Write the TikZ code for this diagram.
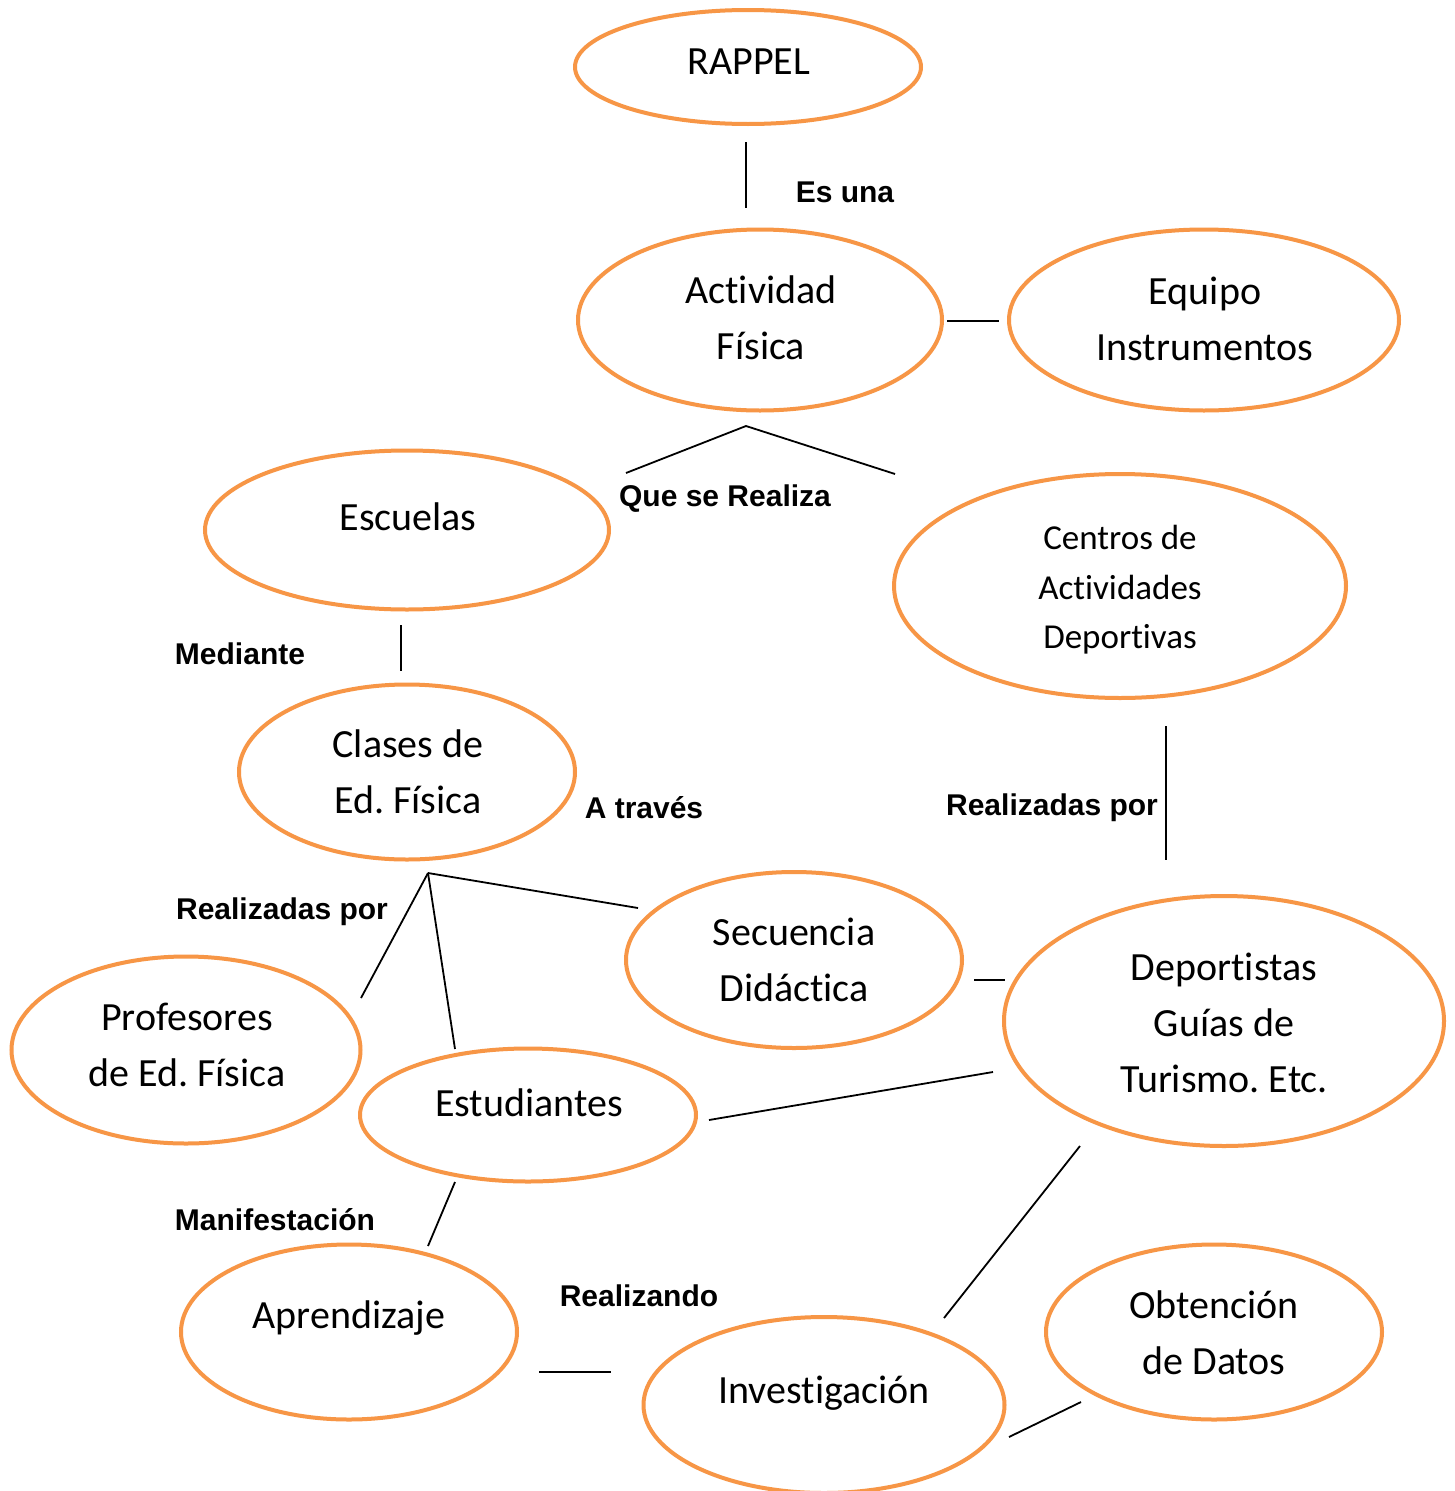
\documentclass[tikz,border=0pt]{standalone}
\usepackage{fontspec}
\usetikzlibrary{shapes.geometric}
\newfontfamily\nodefont{Carlito}[Ligatures={NoCommon}]
\newfontfamily\labfont{Liberation Sans}
\definecolor{ellorange}{RGB}{247,150,70}
\frenchspacing
\begin{document}
\begin{tikzpicture}[x=1pt,y=-1pt,
  ell/.style={ellipse, draw=ellorange, line width=4pt, inner sep=0pt},
  txt/.style={inner sep=0pt, align=center, font=\nodefont\frenchspacing\fontsize{40}{56}\selectfont},
  lab/.style={font=\labfont\bfseries\fontsize{30}{34}\selectfont, anchor=center, inner sep=0pt},
  conn/.style={draw=black, line width=1.8pt}]
\clip (0,0) rectangle (1455,1491);
\fill[white] (0,0) rectangle (1455,1491);
% ellipses
\node[ell, minimum width=346pt, minimum height=114pt] (rappel) at (748,67) {};
\node[ell, minimum width=364pt, minimum height=181pt] (actividad) at (760,320) {};
\node[ell, minimum width=390pt, minimum height=181pt] (equipo) at (1204,320) {};
\node[ell, minimum width=404pt, minimum height=159pt] (escuelas) at (407,530) {};
\node[ell, minimum width=452pt, minimum height=224pt] (centros) at (1120,586) {};
\node[ell, minimum width=336pt, minimum height=175pt] (clases) at (407,772) {};
\node[ell, minimum width=336pt, minimum height=176pt] (secuencia) at (794,960) {};
\node[ell, minimum width=440pt, minimum height=250pt] (deportistas) at (1224,1021) {};
\node[ell, minimum width=349pt, minimum height=187pt] (profesores) at (186,1050) {};
\node[ell, minimum width=336pt, minimum height=133pt] (estudiantes) at (528,1115) {};
\node[ell, minimum width=336pt, minimum height=175pt] (aprendizaje) at (349,1332) {};
\node[ell, minimum width=361pt, minimum height=176pt] (investigacion) at (824,1405) {};
\node[ell, minimum width=336pt, minimum height=175pt] (obtencion) at (1214,1332) {};
% texts
\node[txt] (trappel) at (749,62) {RAPPEL};
\node[txt] (tactividad) at (761,318) {Actividad\\Física};
\node[txt] (tequipo) at (1205,319) {Equipo\\Instrumentos};
\node[txt] (tescuelas) at (408,517) {Escuelas};
\node[txt, font=\nodefont\frenchspacing\fontsize{35}{49.5}\selectfont] (tcentros) at (1120,590) {Centros de\\Actividades\\Deportivas};
\node[txt] (tclases) at (408,772) {Clases de\\Ed. Física};
\node[txt] (tsecuencia) at (794,960) {Secuencia\\Didáctica};
\node[txt] (tdeportistas) at (1224,1023) {Deportistas\\Guías de\\Turismo. Etc.};
\node[txt] (tprofesores) at (187,1045) {Profesores\\de Ed. Física};
\node[txt] (testudiantes) at (529,1103) {Estudiantes};
\node[txt] (taprendizaje) at (349,1318) {Aprendizaje};
\node[txt] (tinvestigacion) at (824,1393) {Investigación};
\node[txt] (tobtencion) at (1214,1333) {Obtención\\de Datos};
% connector coordinates
\coordinate (c1a) at (746,142); \coordinate (c1b) at (746,208);
\coordinate (c2a) at (947,321); \coordinate (c2b) at (999,321);
\coordinate (c3a) at (626,473); \coordinate (c3t) at (746,426); \coordinate (c3b) at (895,474);
\coordinate (c4a) at (401,625); \coordinate (c4b) at (401,671);
\coordinate (c5a) at (1166,726); \coordinate (c5b) at (1166,860);
\coordinate (c6t) at (428,873); \coordinate (c6a) at (638,908); \coordinate (c6b) at (361,998); \coordinate (c6c) at (455,1049);
\coordinate (c7a) at (974,980); \coordinate (c7b) at (1005,980);
\coordinate (c8a) at (709,1120); \coordinate (c8b) at (993,1072);
\coordinate (c9a) at (455,1182); \coordinate (c9b) at (428,1246);
\coordinate (c10a) at (539,1372); \coordinate (c10b) at (611,1372);
\coordinate (c11a) at (1080,1146); \coordinate (c11b) at (944,1318);
\coordinate (c12a) at (1009,1437); \coordinate (c12b) at (1081,1402);
% connectors
\draw[conn] (c1a) -- (c1b);
\draw[conn] (c2a) -- (c2b);
\draw[conn] (c3a) -- (c3t) -- (c3b);
\draw[conn] (c4a) -- (c4b);
\draw[conn] (c5a) -- (c5b);
\draw[conn] (c6t) -- (c6a);
\draw[conn] (c6t) -- (c6b);
\draw[conn] (c6t) -- (c6c);
\draw[conn] (c7a) -- (c7b);
\draw[conn] (c8a) -- (c8b);
\draw[conn] (c9a) -- (c9b);
\draw[conn] (c10a) -- (c10b);
\draw[conn] (c11a) -- (c11b);
\draw[conn] (c12a) -- (c12b);
% labels
\node[lab] (l1) at (845,192) {Es una};
\node[lab] (l2) at (725,499) {Que se Realiza};
\node[lab] (l3) at (240,654) {Mediante};
\node[lab] (l4) at (1052,808) {Realizadas por};
\node[lab] (l5) at (644,808) {A través};
\node[lab] (l6) at (282,912) {Realizadas por};
\node[lab] (l7) at (275,1220) {Manifestación};
\node[lab] (l8) at (639,1296) {Realizando};
\end{tikzpicture}
\end{document}
